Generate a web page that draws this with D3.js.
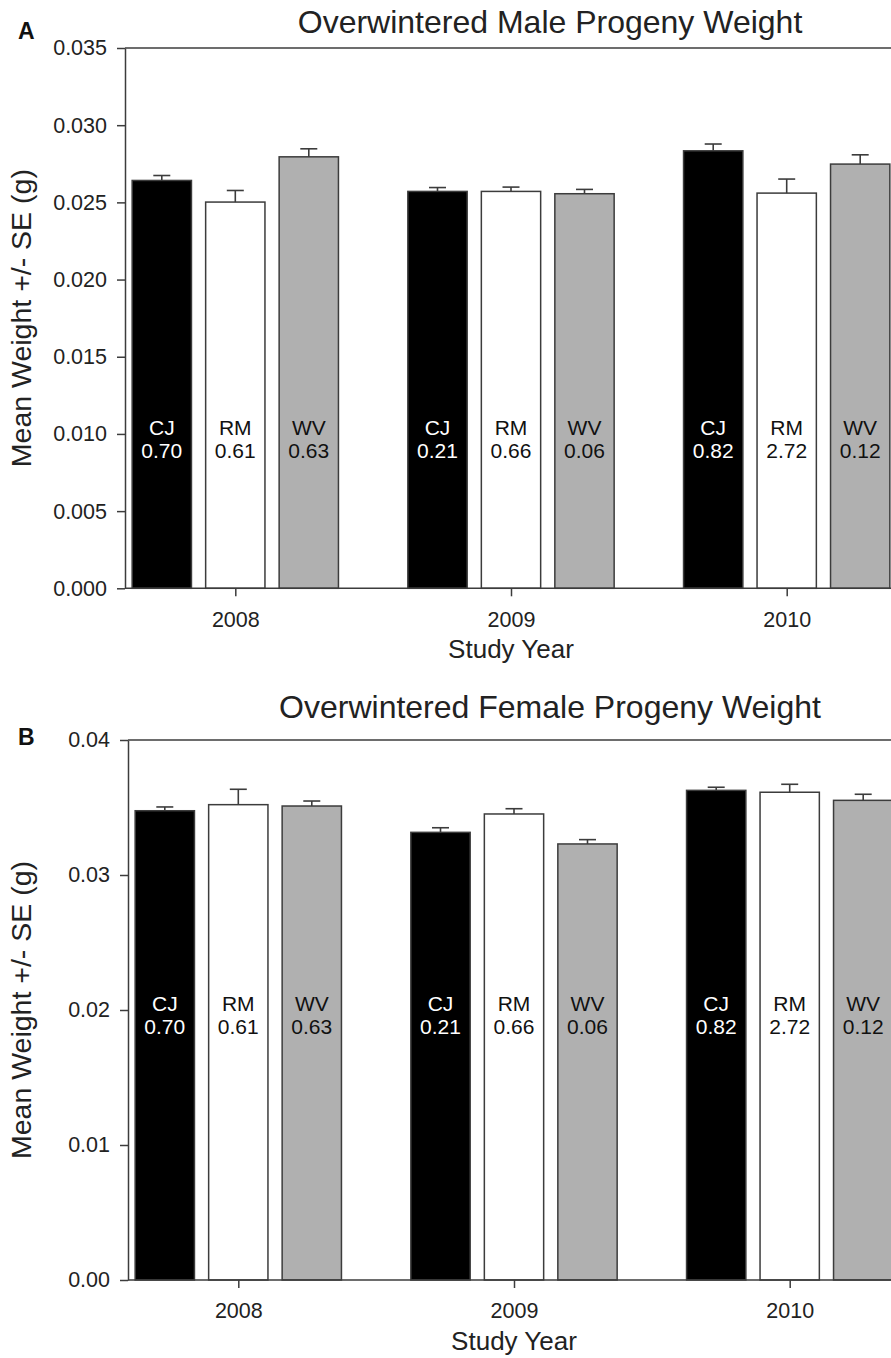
<!DOCTYPE html>
<html>
<head>
<meta charset="utf-8">
<script src="https://cdn.jsdelivr.net/npm/d3@7"></script>
<style>
html,body{margin:0;padding:0;background:#fff;}
svg{display:block;font-family:"Liberation Sans",Arial,Helvetica,sans-serif;}
</style>
</head>
<body>
<svg id="chart" width="891" height="1358"></svg>
<script>
// ---- data ----
const years = ["2008", "2009", "2010"];
const sites = ["CJ", "RM", "WV"];
const siteLabels = {
  CJ: ["0.70", "0.21", "0.82"],
  RM: ["0.61", "0.66", "2.72"],
  WV: ["0.63", "0.06", "0.12"]
};
const maleMean = {
  CJ: [0.02642, 0.02571, 0.02834],
  RM: [0.02502, 0.02571, 0.02560],
  WV: [0.02795, 0.02556, 0.02748]
};
const maleSE = {
  CJ: [0.00032, 0.00025, 0.00044],
  RM: [0.00075, 0.00028, 0.00091],
  WV: [0.00052, 0.00028, 0.00060]
};
const femaleMean = {
  CJ: [0.03476, 0.03316, 0.03627],
  RM: [0.03521, 0.03452, 0.03613],
  WV: [0.03511, 0.03230, 0.03553]
};
const femaleSE = {
  CJ: [0.00028, 0.00034, 0.00023],
  RM: [0.00114, 0.00039, 0.00059],
  WV: [0.00037, 0.00032, 0.00045]
};
const maleTicks = [0, 0.005, 0.010, 0.015, 0.020, 0.025, 0.030, 0.035];
const femaleTicks = [0, 0.01, 0.02, 0.03, 0.04];
const titles = ["Overwintered Male Progeny Weight", "Overwintered Female Progeny Weight"];
const xTitle = "Study Year";
const yTitle = "Mean Weight +/- SE (g)";

const fills = {CJ: "#000000", RM: "#ffffff", WV: "#b0b0b0"};
const textFill = {CJ: "#ffffff", RM: "#111111", WV: "#111111"};
const lineCol = "#3c3c3c";

const svg = d3.select("#chart");

const panels = [
  {letter: "A", title: titles[0], mean: maleMean, se: maleSE, ticks: maleTicks, fmt: d3.format(".3f"),
   axisX: 125, top: 48, bottom: 588.3, labelVal: 0.0099, titleY: 33, letterY: 39},
  {letter: "B", title: titles[1], mean: femaleMean, se: femaleSE, ticks: femaleTicks, fmt: d3.format(".2f"),
   axisX: 128, top: 740, bottom: 1280, labelVal: 0.0199, titleY: 718, letterY: 745}
];

panels.forEach(p => {
  const g = svg.append("g");
  const yMax = p.ticks[p.ticks.length - 1];
  const y = d3.scaleLinear().domain([0, yMax]).range([p.bottom, p.top]);
  const x = d3.scalePoint().domain(years).range([p.axisX + 110.3, p.axisX + 661.7]);
  const xi = d3.scaleBand().domain(sites).range([-103.15, 103.15]).paddingInner(0.193).paddingOuter(0);
  const plotRight = p.axisX + 773;

  // frame top line
  g.append("line").attr("x1", p.axisX).attr("x2", plotRight)
    .attr("y1", p.top).attr("y2", p.top)
    .attr("stroke", lineCol).attr("stroke-width", 1.5);

  // bars
  sites.forEach(s => {
    years.forEach((yr, i) => {
      const v = p.mean[s][i];
      const e = p.se[s][i];
      const bx = x(yr) + xi(s);
      const bw = xi.bandwidth();
      g.append("rect")
        .attr("x", bx).attr("y", y(v))
        .attr("width", bw).attr("height", y(0) - y(v))
        .attr("fill", fills[s]).attr("stroke", lineCol).attr("stroke-width", 1.5);
      const cx = bx + bw / 2;
      g.append("line").attr("x1", cx).attr("x2", cx)
        .attr("y1", y(v)).attr("y2", y(v + e))
        .attr("stroke", lineCol).attr("stroke-width", 1.6);
      g.append("line").attr("x1", cx - 8.5).attr("x2", cx + 8.5)
        .attr("y1", y(v + e)).attr("y2", y(v + e))
        .attr("stroke", lineCol).attr("stroke-width", 1.6);
      const ly = y(p.labelVal);
      g.append("text").attr("x", cx).attr("y", ly)
        .attr("text-anchor", "middle").attr("font-size", 21).attr("fill", textFill[s])
        .text(s);
      g.append("text").attr("x", cx).attr("y", ly + 23)
        .attr("text-anchor", "middle").attr("font-size", 21).attr("fill", textFill[s])
        .text(siteLabels[s][i]);
    });
  });

  // y axis
  const ya = d3.axisLeft(y).tickValues(p.ticks).tickFormat(p.fmt).tickSize(8).tickSizeOuter(0).tickPadding(10);
  const yg = g.append("g").attr("transform", `translate(${p.axisX},0)`).call(ya);
  yg.select(".domain").attr("stroke", lineCol).attr("stroke-width", 1.5);
  yg.selectAll(".tick line").attr("stroke", lineCol).attr("stroke-width", 1.5);
  yg.selectAll(".tick text").attr("font-size", 21.5).attr("fill", "#222").attr("font-family", null);

  // x axis
  const xa = d3.axisBottom(x).tickSize(8).tickSizeOuter(0).tickPadding(15);
  const xg = g.append("g").attr("transform", `translate(0,${p.bottom})`).call(xa);
  xg.select(".domain").attr("d", `M${p.axisX},0H${plotRight}`).attr("stroke", lineCol).attr("stroke-width", 1.5);
  xg.selectAll(".tick line").attr("stroke", lineCol).attr("stroke-width", 1.5);
  xg.selectAll(".tick text").attr("font-size", 21.5).attr("fill", "#222").attr("font-family", null);

  // axis titles
  g.append("text").attr("x", x("2009")).attr("y", p.bottom + 70)
    .attr("text-anchor", "middle").attr("font-size", 26).attr("fill", "#222").text(xTitle);
  const ymid = (p.top + p.bottom) / 2;
  g.append("text").attr("transform", `translate(31,${ymid}) rotate(-90)`)
    .attr("text-anchor", "middle").attr("font-size", 28.5).attr("fill", "#222").text(yTitle);

  // chart title
  g.append("text").attr("x", 550).attr("y", p.titleY)
    .attr("text-anchor", "middle").attr("font-size", 32).attr("fill", "#222").text(p.title);

  // panel letter
  g.append("text").attr("x", 18).attr("y", p.letterY)
    .attr("font-size", 23).attr("font-weight", "bold").attr("fill", "#111").text(p.letter);
});
</script>
</body>
</html>
